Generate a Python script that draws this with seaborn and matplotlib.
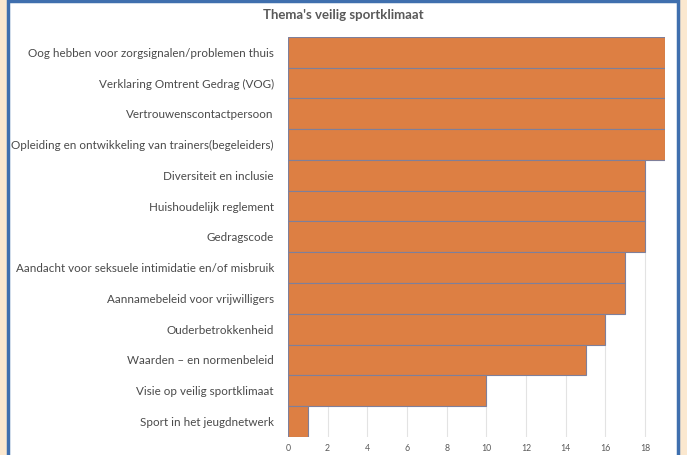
import matplotlib
matplotlib.use('Agg')
import matplotlib.pyplot as plt
import seaborn as sns
import pandas as pd
from matplotlib.patches import Rectangle

# Data
themes = [
    'Oog hebben voor zorgsignalen/problemen thuis',
    'Verklaring Omtrent Gedrag (VOG)',
    'Vertrouwenscontactpersoon',
    'Opleiding en ontwikkeling van trainers(begeleiders)',
    'Diversiteit en inclusie',
    'Huishoudelijk reglement',
    'Gedragscode',
    'Aandacht voor seksuele intimidatie en/of misbruik',
    'Aannamebeleid voor vrijwilligers',
    'Ouderbetrokkenheid',
    'Waarden \u2013 en normenbeleid',
    'Visie op veilig sportklimaat',
    'Sport in het jeugdnetwerk',
]
counts = [19, 19, 19, 19, 18, 18, 18, 17, 17, 16, 15, 10, 1]
xticks = [0, 2, 4, 6, 8, 10, 12, 14, 16, 18]

df = pd.DataFrame({'thema': themes, 'aantal': counts})

sns.set_style('white')
plt.rcParams['font.family'] = ['Lato', 'DejaVu Sans']

fig = plt.figure(figsize=(6.87, 4.55), dpi=100)
fig.patch.set_facecolor('#fbe8cf')
# white panel with blue frame
fig.patches.append(Rectangle((0.011, -0.01), 0.976, 1.007, transform=fig.transFigure,
                             facecolor='white', edgecolor='#3f6fae', linewidth=2.5, zorder=-5))

ax = fig.add_axes([0.419, 0.040, 0.549, 0.879])
ax.set_zorder(2)
ax.set_facecolor('none')
sns.barplot(data=df, x='aantal', y='thema', orient='h', color='#dd7f43',
            edgecolor='#7f7f9a', linewidth=0.8, width=1.0, saturation=1, ax=ax)

ax.set_xlim(0, 19)
ax.set_ylim(len(themes) - 0.5, -0.5)
ax.set_xticks(xticks)
ax.xaxis.grid(True, color='#e3e3e3', linewidth=0.8)
ax.set_axisbelow(True)
for s in ax.spines.values():
    s.set_visible(False)
ax.set_xlabel('')
ax.set_ylabel('')
ax.tick_params(axis='x', labelsize=6.3, colors='#595959', length=0, pad=5)
ax.tick_params(axis='y', labelsize=8.4, colors='#4a4a4a', length=0, pad=10)

fig.text(0.5, 0.967, "Thema's veilig sportklimaat", ha='center', va='center',
         fontsize=9.5, fontweight='bold', color='#595959', zorder=3)

fig.savefig('out.png', dpi=100, facecolor=fig.get_facecolor())
